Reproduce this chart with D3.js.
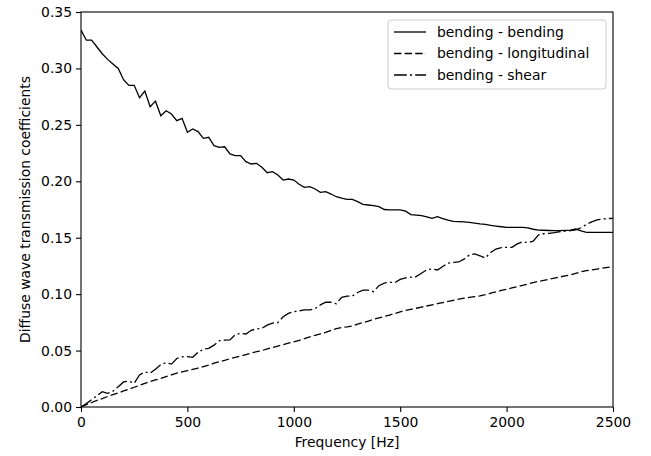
<!DOCTYPE html>
<html lang="en">
<head>
    <meta charset="UTF-8">
    <title>Diffuse wave transmission coefficients</title>
    <style>
        body { margin: 0; background: #fff; }
        text { font-family: "DejaVu Sans", sans-serif; }
    </style>
</head>
<body>
    <div id="chart"></div>
    <script src="https://d3js.org/d3.v7.min.js"></script>
    <script>
        // frequency grid, 25 Hz steps
        var freqs = d3.range(0, 2501, 25);

        var bendingBending = [
            0.334, 0.325, 0.325, 0.319, 0.313, 0.308, 0.304, 0.300, 0.290, 0.285,
            0.285, 0.274, 0.280, 0.266, 0.271, 0.258, 0.2625, 0.2596, 0.2537, 0.2558,
            0.2434, 0.2463, 0.244, 0.238, 0.239, 0.2316, 0.230, 0.2306, 0.2242, 0.2227,
            0.2227, 0.2174, 0.2153, 0.2159, 0.2124, 0.2076, 0.2085, 0.2056, 0.2011, 0.202,
            0.2011, 0.1973, 0.1946, 0.1952, 0.1932, 0.1902, 0.1908, 0.1887, 0.1863, 0.185,
            0.184, 0.184, 0.182, 0.1796, 0.179, 0.1784, 0.1775, 0.175, 0.1746, 0.1746,
            0.1746, 0.1735, 0.1705, 0.170, 0.1695, 0.1685, 0.1672, 0.1686, 0.167, 0.1655,
            0.1645, 0.1642, 0.164, 0.1636, 0.163, 0.1623, 0.1618, 0.161, 0.1603, 0.1597,
            0.1592, 0.1592, 0.1592, 0.1592, 0.1588, 0.1575, 0.1568, 0.1566, 0.1564, 0.1562,
            0.1562, 0.1565, 0.1568, 0.1577, 0.156, 0.1548, 0.1548, 0.1548, 0.1548, 0.1548,
            0.1548
        ];

        var bendingLongitudinal = [
            0.000, 0.002, 0.004, 0.0058, 0.0075, 0.0093, 0.011, 0.0125, 0.0142, 0.0158,
            0.0175, 0.0192, 0.021, 0.0225, 0.024, 0.0254, 0.027, 0.0285, 0.030, 0.0312,
            0.0322, 0.0333, 0.0345, 0.0358, 0.037, 0.0388, 0.0402, 0.0413, 0.0428, 0.044,
            0.0452, 0.0465, 0.0478, 0.049, 0.050, 0.0515, 0.0528, 0.054, 0.0552, 0.0565,
            0.0578, 0.059, 0.0605, 0.0622, 0.0635, 0.0648, 0.0662, 0.0678, 0.0695, 0.0705,
            0.071, 0.0718, 0.0735, 0.0748, 0.0762, 0.0777, 0.079, 0.0802, 0.0815, 0.0828,
            0.0842, 0.0857, 0.0866, 0.0875, 0.0885, 0.0895, 0.0905, 0.0915, 0.0925, 0.0935,
            0.0945, 0.0955, 0.0964, 0.0972, 0.0978, 0.0985, 0.0995, 0.1008, 0.102, 0.1033,
            0.1043, 0.1055, 0.1066, 0.1078, 0.109, 0.1103, 0.1113, 0.1122, 0.1132, 0.1142,
            0.1152, 0.1162, 0.117, 0.1185, 0.1198, 0.1208, 0.1215, 0.1222, 0.123, 0.1237,
            0.1243
        ];

        var bendingShear = [
            0.000, 0.003, 0.0065, 0.010, 0.0136, 0.0121, 0.014, 0.018, 0.0222, 0.023,
            0.021, 0.0284, 0.031, 0.030, 0.0335, 0.0375, 0.0393, 0.038, 0.043, 0.0445,
            0.0446, 0.044, 0.0485, 0.0511, 0.052, 0.0548, 0.0588, 0.0592, 0.0594, 0.064,
            0.0652, 0.0647, 0.068, 0.0692, 0.0697, 0.0725, 0.0744, 0.0747, 0.080, 0.083,
            0.0845, 0.0852, 0.086, 0.086, 0.0872, 0.0905, 0.0928, 0.0928, 0.0915, 0.0972,
            0.0983, 0.0983, 0.1015, 0.1035, 0.1035, 0.1022, 0.1075, 0.1098, 0.1105, 0.1102,
            0.113, 0.1145, 0.115, 0.1155, 0.1185, 0.1216, 0.1222, 0.1214, 0.1245, 0.1275,
            0.1282, 0.1285, 0.131, 0.1347, 0.1356, 0.134, 0.132, 0.137, 0.140, 0.1413,
            0.1415, 0.1415, 0.1445, 0.1465, 0.1456, 0.147, 0.1525, 0.1535, 0.1539, 0.1545,
            0.1553, 0.1558, 0.1562, 0.157, 0.1588, 0.1618, 0.164, 0.1658, 0.1665, 0.167,
            0.1672
        ];

        var seriesNames = ["bending - bending", "bending - longitudinal", "bending - shear"];
        var xTicks = [0, 500, 1000, 1500, 2000, 2500];
        var yTicks = [0, 0.05, 0.10, 0.15, 0.20, 0.25, 0.30, 0.35];

        var margin = {top: 12, right: 38, bottom: 49, left: 81},
            width = 651 - margin.left - margin.right,
            height = 456 - margin.top - margin.bottom;

        var svg = d3.select('#chart')
            .append('svg')
                .attr('width', 651)
                .attr('height', 456)
            .append('g')
                .attr('transform', 'translate(' + margin.left + ',' + margin.top + ')');

        var x = d3.scaleLinear()
            .domain([0, 2500])
            .range([0, width]);

        var y = d3.scaleLinear()
            .domain([0, 0.35])
            .range([height, 0]);

        var series = [
            {name: seriesNames[0], values: bendingBending, dash: null},
            {name: seriesNames[1], values: bendingLongitudinal, dash: '7.4,3.2'},
            {name: seriesNames[2], values: bendingShear, dash: '12.8,3.2,2,3.2'}
        ];

        var line = d3.line()
            .x(function(d, i) { return x(freqs[i]); })
            .y(function(d) { return y(d); });

        svg.append('defs').append('clipPath')
            .attr('id', 'clip')
            .append('rect')
                .attr('width', width)
                .attr('height', height);

        svg.append('g')
            .attr('clip-path', 'url(#clip)')
            .selectAll('path')
            .data(series)
            .enter().append('path')
                .attr('d', function(d) { return line(d.values); })
                .attr('fill', 'none')
                .attr('stroke', '#000')
                .attr('stroke-width', 1.3)
                .attr('stroke-dasharray', function(d) { return d.dash; });

        // axes
        var xAxis = svg.append('g')
            .attr('transform', 'translate(0,' + height + ')')
            .call(d3.axisBottom(x).tickValues(xTicks).tickSize(5).tickPadding(5).tickFormat(d3.format('d')));

        var yAxis = svg.append('g')
            .call(d3.axisLeft(y).tickValues(yTicks).tickSize(5).tickPadding(4).tickFormat(d3.format('.2f')));

        [xAxis, yAxis].forEach(function(a) {
            a.selectAll('text')
                .style('font-family', '"DejaVu Sans", sans-serif')
                .style('font-size', '13.9px')
                .attr('fill', '#000');
            a.selectAll('line').attr('stroke', '#000').attr('stroke-width', 1.1);
            a.select('.domain').remove();
        });

        // frame
        svg.append('rect')
            .attr('width', width)
            .attr('height', height)
            .attr('fill', 'none')
            .attr('stroke', '#000')
            .attr('stroke-width', 1.1);

        svg.append('text')
            .attr('x', width / 2)
            .attr('y', height + 40)
            .attr('text-anchor', 'middle')
            .style('font-size', '13.9px')
            .text('Frequency [Hz]');

        svg.append('text')
            .attr('transform', 'translate(' + (-51) + ',' + (height / 2) + ') rotate(-90)')
            .attr('text-anchor', 'middle')
            .style('font-size', '13.9px')
            .text('Diffuse wave transmission coefficients');

        // legend
        var legend = svg.append('g')
            .attr('transform', 'translate(' + (width - 225) + ',8)');

        legend.append('rect')
            .attr('width', 218)
            .attr('height', 69)
            .attr('rx', 3)
            .attr('fill', '#fff')
            .attr('fill-opacity', 0.8)
            .attr('stroke', '#cccccc')
            .attr('stroke-width', 1);

        var rows = legend.selectAll('.legend')
            .data(series)
            .enter().append('g')
            .attr('class', 'legend')
            .attr('transform', function(d, i) { return 'translate(0,' + (12 + i * 21.5) + ')'; });

        rows.append('line')
            .attr('x1', 6)
            .attr('x2', 38)
            .attr('stroke', '#000')
            .attr('stroke-width', 1.3)
            .attr('stroke-dasharray', function(d) { return d.dash; });

        rows.append('text')
            .attr('x', 49)
            .attr('dy', '0.35em')
            .style('font-size', '13.9px')
            .text(function(d) { return d.name; });
    </script>
</body>
</html>
